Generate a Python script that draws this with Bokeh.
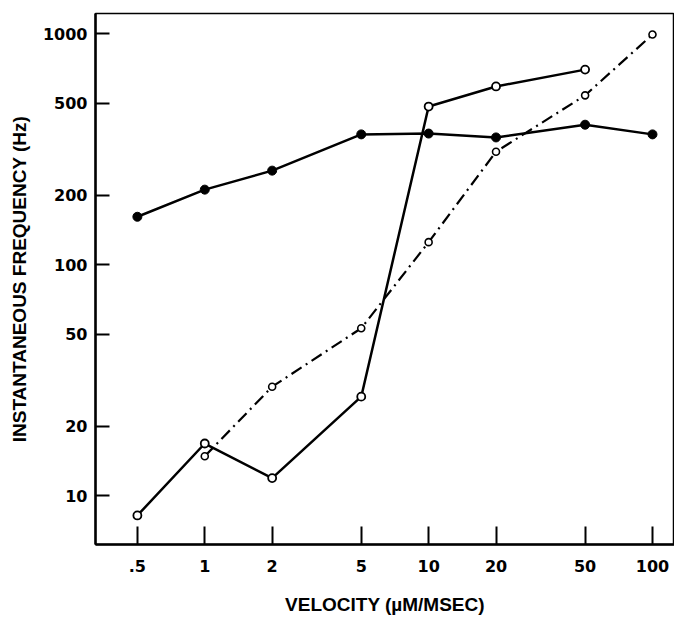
from bokeh.plotting import figure
from bokeh.models import FixedTicker, Range1d
from bokeh.embed import file_html
from bokeh.resources import INLINE

# ---- data ----
x_ticks = [0.5, 1, 2, 5, 10, 20, 50, 100]
x_tick_labels = [".5", "1", "2", "5", "10", "20", "50", "100"]
y_ticks = [10, 20, 50, 100, 200, 500, 1000]
y_tick_labels = ["10", "20", "50", "100", "200", "500", "1000"]

filled_x = [0.5, 1, 2, 5, 10, 20, 50, 100]
filled_hz = [161, 211, 255, 366, 369, 355, 403, 366]

open_x = [0.5, 1, 2, 5, 10, 20, 50]
open_hz = [8.2, 16.8, 11.9, 26.8, 483, 590, 698]

dashdot_x = [1, 2, 5, 10, 20, 50, 100]
dashdot_hz = [14.8, 29.6, 53, 125, 308, 540, 990]

x_label = "VELOCITY (µM/MSEC)"
y_label = "INSTANTANEOUS FREQUENCY (Hz)"

p = figure(
    x_axis_type="log", y_axis_type="log",
    frame_width=579, frame_height=531,
    min_border_left=95, min_border_right=0, min_border_top=13, min_border_bottom=72,
    output_backend="svg", toolbar_location=None,
    x_range=Range1d(0.325, 125.4), y_range=Range1d(6.14, 1221),
)
p.background_fill_color = "white"
p.border_fill_color = "white"
p.outline_line_color = "black"
p.outline_line_width = 1.5
p.grid.visible = False

TICK_FONT = "DejaVu Sans"
LABEL_FONT = "Liberation Sans"

# x axis
xa = p.xaxis[0]
xa.ticker = FixedTicker(ticks=x_ticks, minor_ticks=[])
xa.major_label_overrides = dict(zip(x_ticks, x_tick_labels))
xa.major_tick_in = 18
xa.major_tick_out = 0
xa.minor_tick_in = 0
xa.minor_tick_out = 0
xa.major_tick_line_width = 2
xa.axis_line_width = 2.5
xa.major_label_standoff = 15
xa.major_label_text_font = TICK_FONT
xa.major_label_text_font_size = "16px"
xa.major_label_text_font_style = "bold"
xa.major_label_text_color = "black"
xa.axis_label = x_label
xa.axis_label_text_font = LABEL_FONT
xa.axis_label_text_font_size = "19px"
xa.axis_label_text_font_style = "bold"
xa.axis_label_text_color = "black"
xa.axis_label_standoff = 19

# y axis
ya = p.yaxis[0]
ya.ticker = FixedTicker(ticks=y_ticks, minor_ticks=[])
ya.major_label_overrides = dict(zip(y_ticks, y_tick_labels))
ya.major_tick_in = 14
ya.major_tick_out = 0
ya.minor_tick_in = 0
ya.minor_tick_out = 0
ya.major_tick_line_width = 2
ya.axis_line_width = 2.5
ya.major_label_standoff = 8
ya.major_label_text_font = TICK_FONT
ya.major_label_text_font_size = "16px"
ya.major_label_text_font_style = "bold"
ya.major_label_text_color = "black"
ya.axis_label = y_label
ya.axis_label_text_font = LABEL_FONT
ya.axis_label_text_font_size = "19px"
ya.axis_label_text_font_style = "bold"
ya.axis_label_text_color = "black"
ya.axis_label_standoff = 10

# series
p.line(dashdot_x, dashdot_hz, line_color="black", line_width=2.2, line_dash="12 5 2 5")
p.scatter(dashdot_x, dashdot_hz, size=7, marker="circle", fill_color="white",
          line_color="black", line_width=1.6)

p.line(open_x, open_hz, line_color="black", line_width=2.5)
p.scatter(open_x, open_hz, size=8, marker="circle", fill_color="white",
          line_color="black", line_width=1.8)

p.line(filled_x, filled_hz, line_color="black", line_width=2.5)
p.scatter(filled_x, filled_hz, size=9, marker="circle", fill_color="black",
          line_color="black", line_width=1)

open("out.html", "w").write(file_html(p, INLINE))
